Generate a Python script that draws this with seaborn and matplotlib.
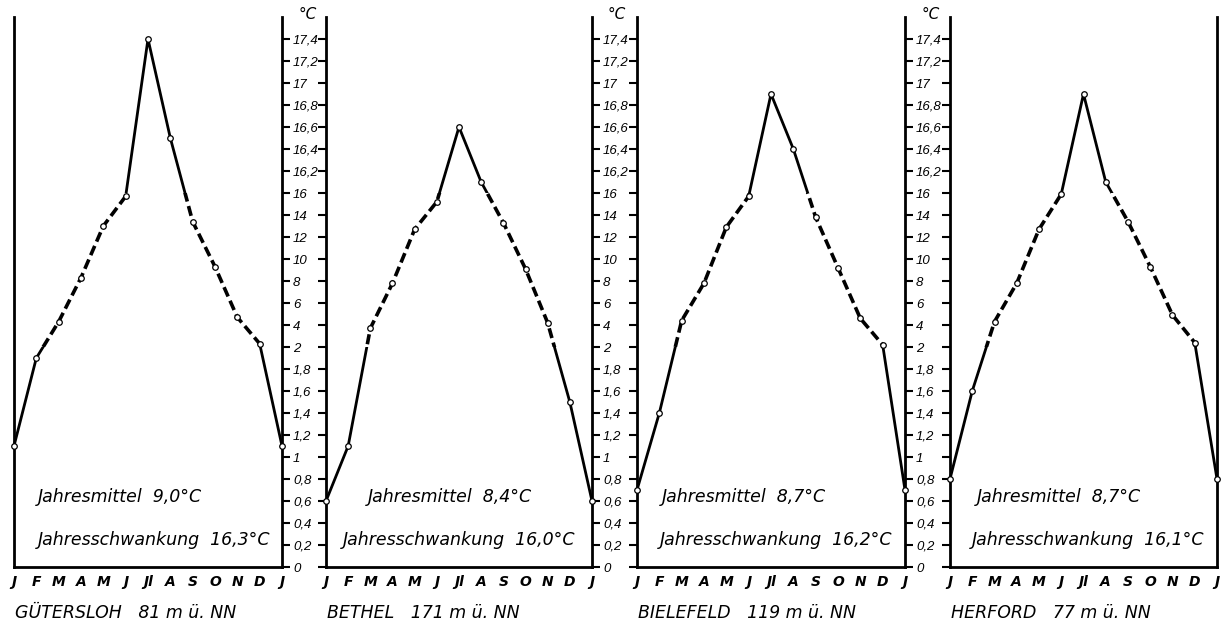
import numpy as np
import matplotlib
matplotlib.use('Agg')
import matplotlib.pyplot as plt
import matplotlib.transforms as mtransforms
from matplotlib.patches import Rectangle
import seaborn as sns

# monthly mean temperatures (J .. D, J again)
months = ['J', 'F', 'M', 'A', 'M', 'J', 'Jl', 'A', 'S', 'O', 'N', 'D', 'J']
stations = ['GÜTERSLOH', 'BETHEL', 'BIELEFELD', 'HERFORD']
heights = ['81 m ü. NN', '171 m ü. NN', '119 m ü. NN', '77 m ü. NN']
guetersloh = [1.1, 1.9, 4.3, 8.3, 13.0, 15.7, 17.4, 16.5, 13.4, 9.3, 4.7, 2.3, 1.1]
bethel = [0.6, 1.1, 3.7, 7.8, 12.7, 15.2, 16.6, 16.1, 13.3, 9.1, 4.2, 1.5, 0.6]
bielefeld = [0.7, 1.4, 4.4, 7.8, 12.9, 15.7, 16.9, 16.4, 13.8, 9.2, 4.6, 2.2, 0.7]
herford = [0.8, 1.6, 4.3, 7.8, 12.7, 15.9, 16.9, 16.1, 13.4, 9.3, 4.9, 2.4, 0.8]
jahresmittel = ['9,0', '8,4', '8,7', '8,7']
schwankung = ['16,3', '16,0', '16,2', '16,1']
yticks = [0, 0.2, 0.4, 0.6, 0.8, 1, 1.2, 1.4, 1.6, 1.8, 2, 4, 6, 8, 10, 12, 14, 16,
          16.2, 16.4, 16.6, 16.8, 17, 17.2, 17.4]

series = [guetersloh, bethel, bielefeld, herford]


# broken scale: 0-2 and 16-17.4 stretched, 2-16 compressed
def fwd(v):
    v = np.asarray(v, dtype=float)
    return np.where(v <= 2, v * 5, np.where(v <= 16, 10 + (v - 2) / 2, 17 + (v - 16) * 5))


def inv(i):
    i = np.asarray(i, dtype=float)
    return np.where(i <= 10, i / 5, np.where(i <= 17, 2 + (i - 10) * 2, 16 + (i - 17) / 5))


sns.set_style('white')
plt.rcParams['font.family'] = ['DejaVu Sans']
plt.rcParams['text.color'] = 'black'
plt.rcParams['xtick.color'] = 'black'
plt.rcParams['ytick.color'] = 'black'

fig = plt.figure(figsize=(12.31, 6.26), dpi=100)
lefts = [14, 326, 637, 950]
widths = [268, 266, 268, 267]
mittel_x = [24, 42, 25, 27]
schw_x = [24, 17, 23, 22]

x = np.arange(len(months))
for k in range(4):
    ax = fig.add_axes([lefts[k] / 1231, 59 / 626, widths[k] / 1231, 550 / 626])
    ax.set_yscale('function', functions=(fwd, inv))
    ax.set_ylim(0, 17.6)
    ax.set_xlim(0, 12)
    vals = series[k]
    blend = mtransforms.blended_transform_factory(ax.transAxes, ax.transData)

    # solid below 2 and above 16, dashed in between
    bands = [(-0.5, 2, '-', 2.0), (16, 18, '-', 2.0), (2, 16, (0, (2.8, 1.3)), 2.6)]
    for lo, hi, ls, lw in bands:
        sns.lineplot(x=x, y=vals, ax=ax, color='black', linestyle=ls, linewidth=lw)
        line = ax.lines[-1]
        line.set_clip_path(Rectangle((-0.05, lo), 1.1, hi - lo, transform=blend))
    sns.scatterplot(x=x, y=vals, ax=ax, color='white', edgecolor='black', s=16,
                    linewidth=0.9, zorder=5, clip_on=False)

    for side in ['left', 'right', 'bottom']:
        ax.spines[side].set_visible(True)
        ax.spines[side].set_linewidth(2)
        ax.spines[side].set_color('black')
    ax.spines['top'].set_visible(False)

    ax.set_yticks(yticks)
    ax.set_yticklabels([f'{v:g}'.replace('.', ',') for v in yticks],
                       fontstyle='italic', fontsize=9.5, family='Liberation Sans')
    ax.yaxis.set_minor_locator(matplotlib.ticker.NullLocator())
    ax.tick_params(axis='y', direction='out', length=6, width=1.5,
                   left=k > 0, right=k < 3, labelleft=False, labelright=k < 3, pad=2)
    ax.set_xticks(x)
    ax.set_xticklabels(months, fontstyle='italic', fontweight='bold', fontsize=10)
    ax.tick_params(axis='x', length=0, pad=6)
    ax.set_xlabel('')
    ax.set_ylabel('')

    if k < 3:
        ax.text(1.06, 1.004, '°C', transform=ax.transAxes, fontstyle='italic',
                fontsize=11, ha='left', va='center')
    ax.text(mittel_x[k] / widths[k], 0.127, f'Jahresmittel  {jahresmittel[k]}°C',
            transform=ax.transAxes, fontstyle='italic', fontsize=12.5, ha='left', va='center')
    ax.text(schw_x[k] / widths[k], 0.049, f'Jahresschwankung  {schwankung[k]}°C',
            transform=ax.transAxes, fontstyle='italic', fontsize=12.5, ha='left', va='center')
    ax.text(0.005, -0.083, f'{stations[k]}   {heights[k]}', transform=ax.transAxes,
            fontstyle='italic', fontsize=12.5, ha='left', va='center')

fig.savefig('out.png', dpi=100, facecolor='white')
